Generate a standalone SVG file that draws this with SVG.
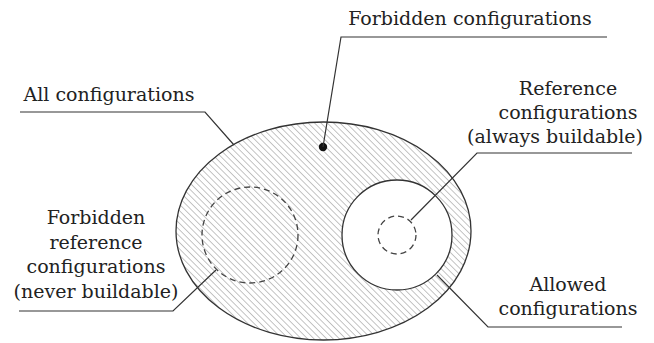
<svg xmlns="http://www.w3.org/2000/svg" width="654" height="343" viewBox="0 0 654 343">
<style>
.t{font-family:"DejaVu Serif","Liberation Serif",serif;font-size:19px;fill:#222;text-anchor:middle}
.ld{fill:none;stroke:#333;stroke-width:1.2}
.sh{stroke:#333;stroke-width:1.3}
.da{fill:none;stroke:#444;stroke-width:1.3;stroke-dasharray:6 4}
</style>
<defs>
<pattern id="hatch" width="4.5" height="4.5" patternUnits="userSpaceOnUse" patternTransform="rotate(-45)">
<rect width="4.5" height="4.5" fill="#fff"/>
<line x1="0" y1="0" x2="0" y2="4.5" stroke="#8a8a8a" stroke-width="1"/>
</pattern>
</defs>
<rect width="654" height="343" fill="#fff"/>
<g id="all">
<ellipse cx="323.5" cy="231" rx="147.5" ry="109" fill="url(#hatch)" class="sh"/>
</g>
<g id="forbidden-ref">
<circle cx="250" cy="235" r="48" class="da"/>
</g>
<g id="allowed">
<circle cx="397" cy="235" r="55" fill="#fff" class="sh"/>
</g>
<g id="reference">
<circle cx="397" cy="235" r="19" class="da"/>
</g>
<g id="forbidden">
<circle cx="323" cy="147" r="4.2" fill="#111"/>
</g>
<g id="connectors">
<polyline class="ld" points="20,112 205,112 234,145"/>
<polyline class="ld" points="607,37 341,37 323,147"/>
<polyline class="ld" points="632,153 477,153 411,220"/>
<polyline class="ld" points="622,327 488,327 437,275"/>
<polyline class="ld" points="19,311 173,311 216,270"/>
</g>
<g id="labels">
<text class="t" x="470" y="25">Forbidden configurations</text>
<text class="t" x="109" y="101">All configurations</text>
<text class="t" x="568" y="95">Reference</text>
<text class="t" x="568" y="119">configurations</text>
<text class="t" x="555" y="143">(always buildable)</text>
<text class="t" x="96" y="224">Forbidden</text>
<text class="t" x="96" y="249">reference</text>
<text class="t" x="96" y="273">configurations</text>
<text class="t" x="96" y="298">(never buildable)</text>
<text class="t" x="568" y="291">Allowed</text>
<text class="t" x="568" y="315">configurations</text>
</g>
</svg>
